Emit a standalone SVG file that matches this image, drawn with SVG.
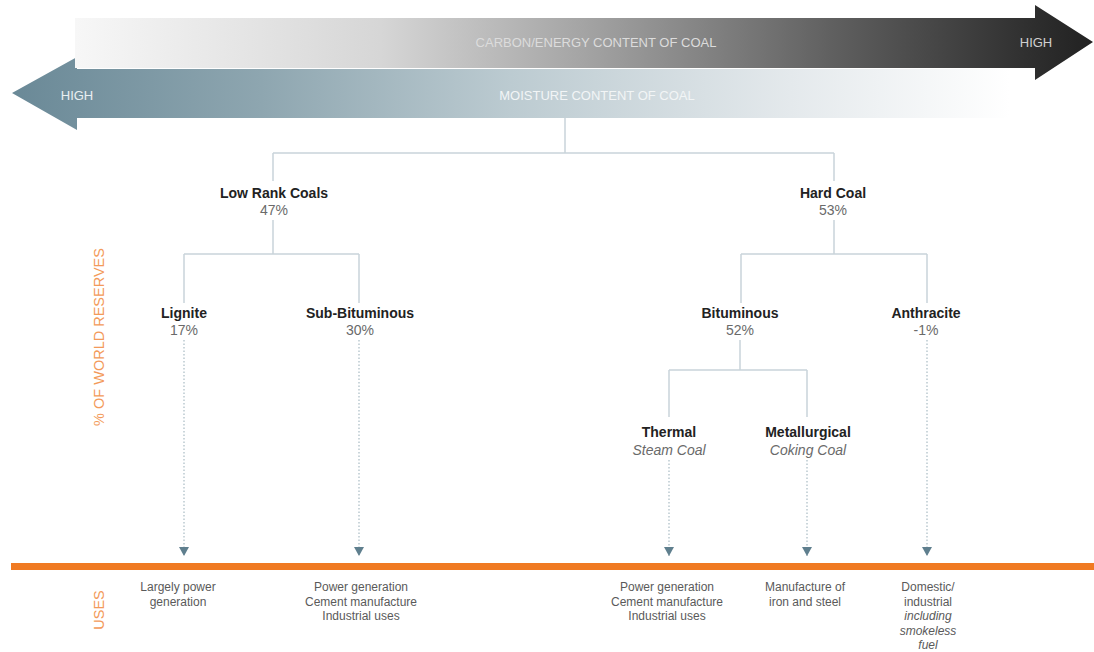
<svg xmlns="http://www.w3.org/2000/svg" width="1094" height="652" viewBox="0 0 1094 652">
  <defs>
    <linearGradient id="gCarbon" x1="75" y1="0" x2="1093" y2="0" gradientUnits="userSpaceOnUse">
      <stop offset="0" stop-color="#f7f7f7"/>
      <stop offset="0.3" stop-color="#d6d6d6"/>
      <stop offset="0.5" stop-color="#a4a4a4"/>
      <stop offset="0.75" stop-color="#5e5e5e"/>
      <stop offset="0.95" stop-color="#2c2c2c"/>
      <stop offset="1" stop-color="#222222"/>
    </linearGradient>
    <linearGradient id="gMoist" x1="12" y1="0" x2="1010" y2="0" gradientUnits="userSpaceOnUse">
      <stop offset="0" stop-color="#6a8997"/>
      <stop offset="0.25" stop-color="#8ea6b0"/>
      <stop offset="0.5" stop-color="#bccbd1"/>
      <stop offset="0.78" stop-color="#e4e9ec"/>
      <stop offset="1" stop-color="#ffffff"/>
    </linearGradient>
    <marker id="tri" viewBox="0 0 10 10" refX="9" refY="5" markerWidth="10" markerHeight="10" markerUnits="userSpaceOnUse" orient="auto">
      <path d="M0 0 L9 5 L0 10 z" fill="#5f7f8e"/>
    </marker>
    <style>
      .arrowtxt { font-family: "Liberation Sans", Arial, sans-serif; font-size: 13px; text-anchor: middle; }
      .name { font-family: "Liberation Sans", Arial, sans-serif; font-size: 14px; font-weight: bold; fill: #222; text-anchor: middle; }
      .pct { font-family: "Liberation Sans", Arial, sans-serif; font-size: 14px; fill: #6a6a6a; text-anchor: middle; }
      .sub { font-family: "Liberation Sans", Arial, sans-serif; font-size: 14px; font-style: italic; fill: #6a6a6a; text-anchor: middle; }
      .use { font-family: "Liberation Sans", Arial, sans-serif; font-size: 12px; fill: #5a5a5a; text-anchor: middle; }
      .usei { font-style: italic; }
      .side { font-family: "Liberation Sans", Arial, sans-serif; font-size: 14.5px; fill: #f39a5a; text-anchor: middle; }
      .tree { fill: none; stroke: #c9d4da; stroke-width: 1.5; }
      .dot { fill: none; stroke: #a9bbc4; stroke-width: 1.2; stroke-dasharray: 1.5 2; }
    </style>
  </defs>

  <rect width="1094" height="652" fill="#ffffff"/>

  <!-- Moisture arrow (pointing left) -->
  <g id="moisture-arrow">
    <polygon points="12,93 77,57 77,69 1010,69 1010,118 77,118 77,130" fill="url(#gMoist)"/>
    <text class="arrowtxt" x="77" y="100" fill="#e9eff1">HIGH</text>
    <text class="arrowtxt" x="597" y="100" fill="#f2f5f6">MOISTURE CONTENT OF COAL</text>
  </g>

  <!-- Carbon arrow (pointing right) -->
  <g id="carbon-arrow">
    <polygon points="75,18 1035,18 1035,5 1093,42 1035,80 1035,68 75,68" fill="url(#gCarbon)"/>
    <text class="arrowtxt" x="596" y="47" fill="#dcdcdc">CARBON/ENERGY CONTENT OF COAL</text>
    <text class="arrowtxt" x="1036" y="47" fill="#d0d0d0">HIGH</text>
  </g>

  <!-- Orange baseline -->
  <rect id="uses-line" x="11" y="563" width="1083" height="7" fill="#f07a22"/>

  <!-- Side labels -->
  <text class="side" transform="translate(104,337) rotate(-90)">% OF WORLD RESERVES</text>
  <text class="side" transform="translate(104,610) rotate(-90)">USES</text>

  <!-- Connectors -->
  <g id="connectors">
    <path class="tree" d="M565 118 V153 M273 153 H834 M273 153 V181 M834 153 V181"/>
    <path class="tree" d="M273 220 V254 M184 254 H359 M184 254 V303 M359 254 V303"/>
    <path class="tree" d="M834 220 V254 M741 254 H927 M741 254 V303 M927 254 V303"/>
    <path class="tree" d="M740 340 V370 M669 370 H807 M669 370 V417 M807 370 V417"/>
    <line class="dot" x1="184" y1="340" x2="184" y2="556" marker-end="url(#tri)"/>
    <line class="dot" x1="359" y1="340" x2="359" y2="556" marker-end="url(#tri)"/>
    <line class="dot" x1="669" y1="460" x2="669" y2="556" marker-end="url(#tri)"/>
    <line class="dot" x1="807" y1="460" x2="807" y2="556" marker-end="url(#tri)"/>
    <line class="dot" x1="927" y1="340" x2="927" y2="556" marker-end="url(#tri)"/>
  </g>

  <!-- Nodes -->
  <g id="low-rank">
    <text class="name" x="274" y="198">Low Rank Coals</text>
    <text class="pct" x="274" y="215">47%</text>
  </g>
  <g id="hard-coal">
    <text class="name" x="833" y="198">Hard Coal</text>
    <text class="pct" x="833" y="215">53%</text>
  </g>
  <g id="lignite">
    <text class="name" x="184" y="318">Lignite</text>
    <text class="pct" x="184" y="335">17%</text>
  </g>
  <g id="sub-bituminous">
    <text class="name" x="360" y="318">Sub-Bituminous</text>
    <text class="pct" x="360" y="335">30%</text>
  </g>
  <g id="bituminous">
    <text class="name" x="740" y="318">Bituminous</text>
    <text class="pct" x="740" y="335">52%</text>
  </g>
  <g id="anthracite">
    <text class="name" x="926" y="318">Anthracite</text>
    <text class="pct" x="926" y="335">-1%</text>
  </g>
  <g id="thermal">
    <text class="name" x="669" y="437">Thermal</text>
    <text class="sub" x="669" y="455">Steam Coal</text>
  </g>
  <g id="metallurgical">
    <text class="name" x="808" y="437">Metallurgical</text>
    <text class="sub" x="808" y="455">Coking Coal</text>
  </g>

  <!-- Uses -->
  <g id="use-lignite">
    <text class="use" x="178" y="591">Largely power</text>
    <text class="use" x="178" y="605.5">generation</text>
  </g>
  <g id="use-sub-bituminous">
    <text class="use" x="361" y="591">Power generation</text>
    <text class="use" x="361" y="605.5">Cement manufacture</text>
    <text class="use" x="361" y="620">Industrial uses</text>
  </g>
  <g id="use-thermal">
    <text class="use" x="667" y="591">Power generation</text>
    <text class="use" x="667" y="605.5">Cement manufacture</text>
    <text class="use" x="667" y="620">Industrial uses</text>
  </g>
  <g id="use-metallurgical">
    <text class="use" x="805" y="591">Manufacture of</text>
    <text class="use" x="805" y="605.5">iron and steel</text>
  </g>
  <g id="use-anthracite">
    <text class="use" x="928" y="591">Domestic/</text>
    <text class="use" x="928" y="605.5">industrial</text>
    <text class="use usei" x="928" y="620">including</text>
    <text class="use usei" x="928" y="634.5">smokeless</text>
    <text class="use usei" x="928" y="649">fuel</text>
  </g>
</svg>
